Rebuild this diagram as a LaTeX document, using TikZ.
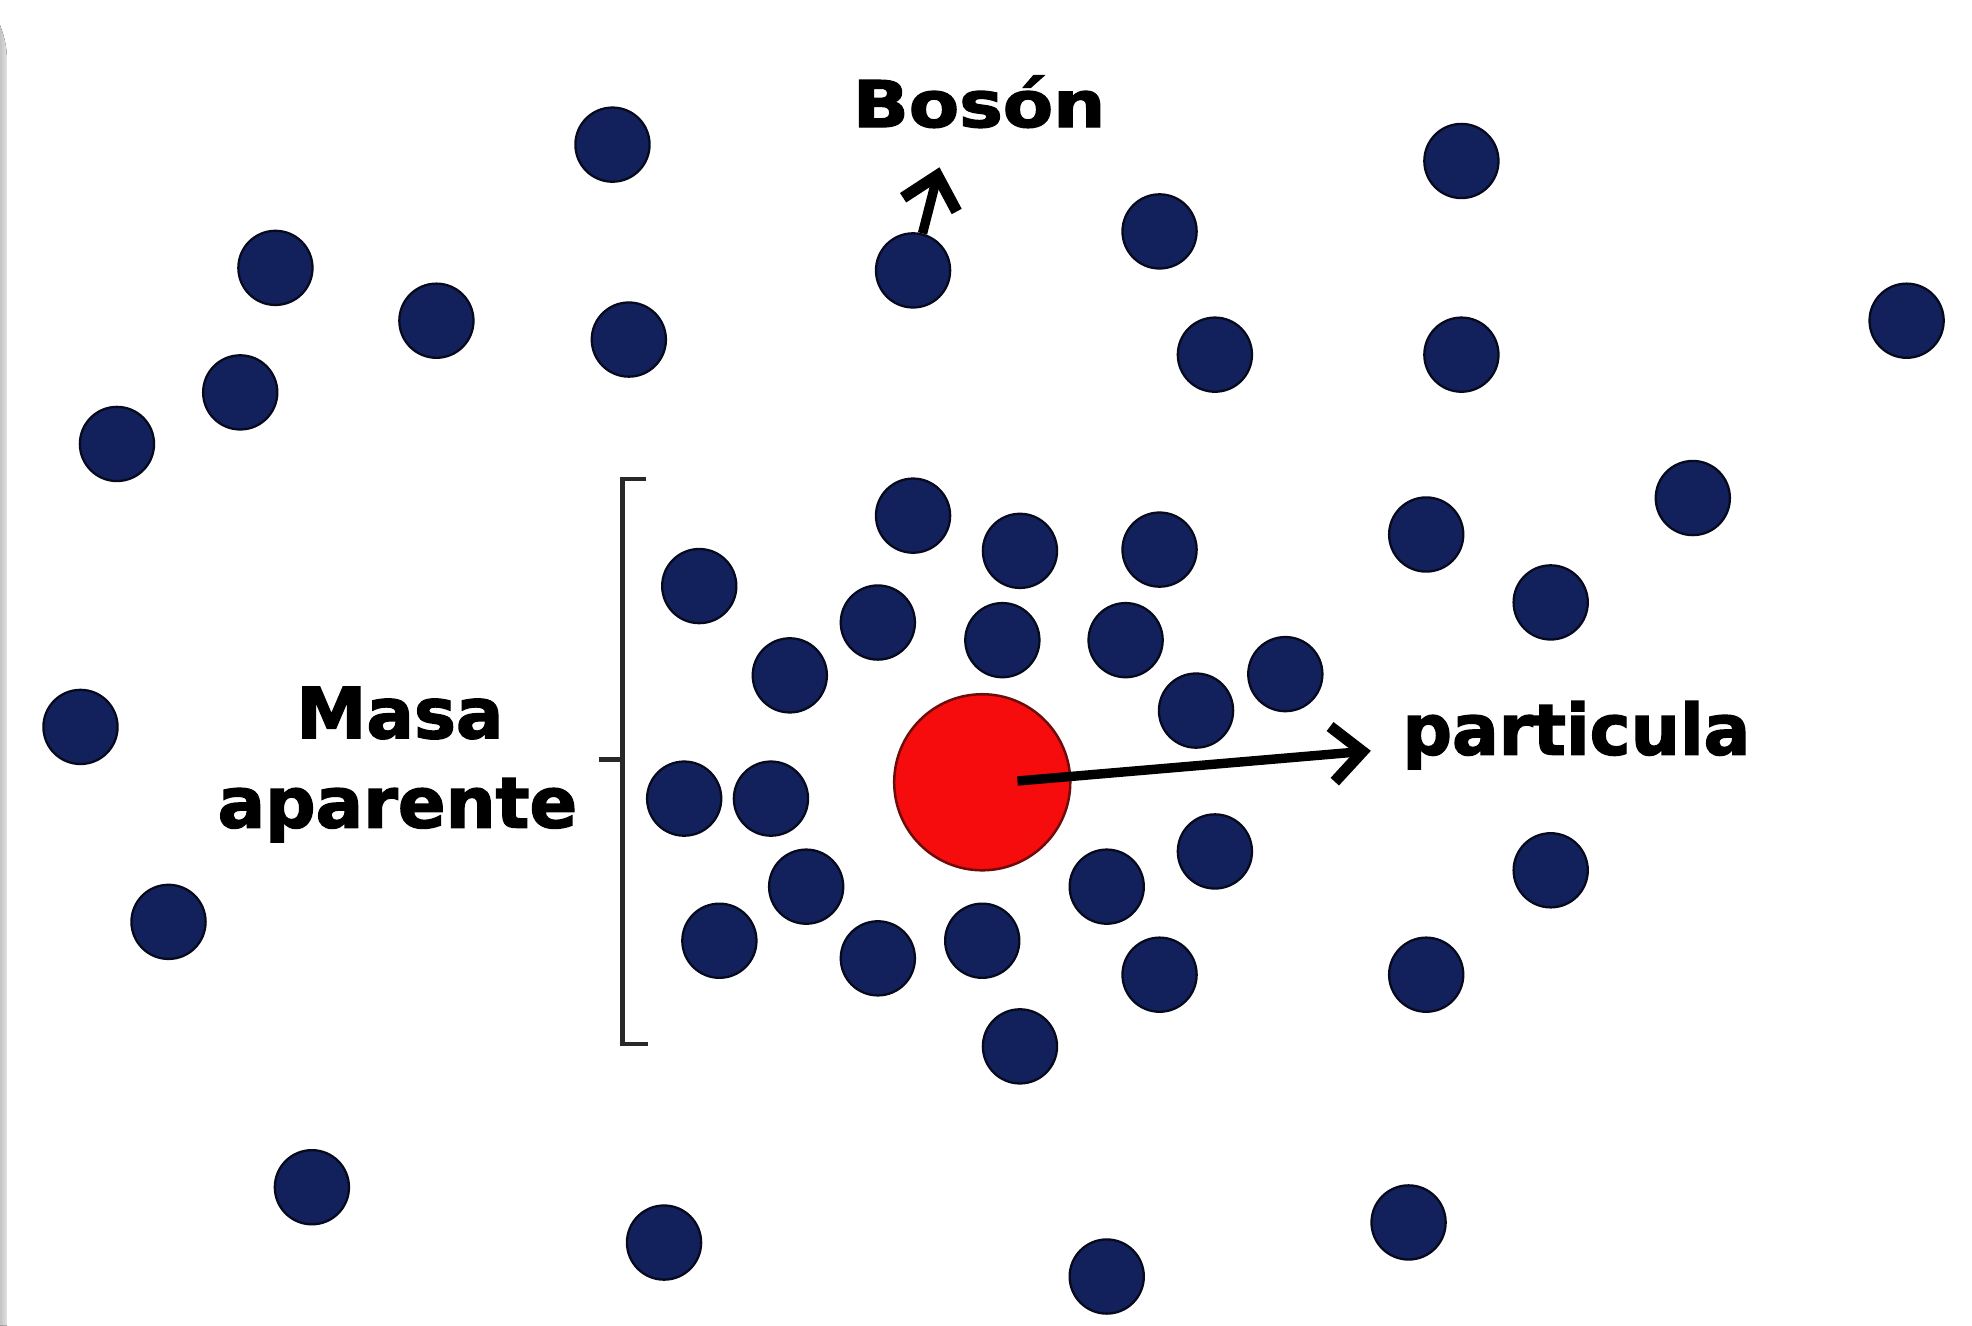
\documentclass[tikz,border=0pt]{standalone}
\usepackage{fontspec}
\setmainfont{DejaVu Sans}
\newfontfamily\heavyfont[FakeBold=2]{DejaVu Sans Bold}
\usetikzlibrary{arrows.meta}
\definecolor{dotblue}{RGB}{18,32,92}
\definecolor{dotedge}{RGB}{6,10,28}
\definecolor{pred}{RGB}{246,12,12}
\definecolor{pedge}{RGB}{110,12,12}
\definecolor{strip}{RGB}{196,196,196}
\begin{document}
\begin{tikzpicture}[x=1pt,y=-1pt,
  dot/.style={circle, fill=dotblue, draw=dotedge, line width=1.8pt, minimum size=59pt, inner sep=0pt},
  pcirc/.style={circle, fill=pred, draw=pedge, line width=2pt, minimum size=140pt, inner sep=0pt},
  lbl/.style={font=\heavyfont\fontsize{55}{66}\selectfont, inner sep=0pt, text=black},
  arr/.style={line width=7.5pt, -{Straight Barb[length=24pt,width=44pt,line width=9pt]}},
  bracket/.style={line width=3.5pt, draw={rgb,255:red,40;green,40;blue,40}}]
\useasboundingbox (0,0) rectangle (1568,1054);
\fill[white] (0,0) rectangle (1568,1054);
\fill[left color=strip, right color=strip!50] (0,20) .. controls (3,28) and (5.5,36) .. (5.5,48) -- (5.5,1054) -- (0,1054) -- cycle;
% dots
\foreach \n/\x/\y in {1/487/115, 2/219/213, 3/347/255, 4/191/312, 5/93/353, 6/500/270,
  7/726/215, 8/922/184, 9/1162/128, 10/966/282, 11/1162/282, 12/1516/255, 13/1346/396,
  14/1134/425, 15/1233/479, 16/64/578, 17/134/733, 18/726/410, 19/811/438, 20/922/437,
  21/556/466, 22/698/495, 23/797/509, 24/895/509, 25/628/537, 26/1022/536, 27/951/565,
  28/544/635, 29/613/635, 30/641/705, 31/880/705, 32/966/677, 33/572/748, 34/698/762,
  35/781/748, 36/922/775, 37/811/832, 38/1134/775, 39/1233/692, 40/248/944, 41/528/988,
  42/880/1015, 43/1120/972}
  \node[dot] (d\n) at (\x,\y) {};
% particle
\node[pcirc] (p) at (781,622) {};
\coordinate (pstart) at (809,621);
\node[lbl, anchor=base west] (lp) at (1115,600) {\scalebox{1.0}[1.02]{particula}};
\coordinate (ptip) at (1090,597);
\draw[arr] (pstart) -- (ptip);
% boson
\node[lbl, anchor=base west] (lb) at (678,101) {\scalebox{1.06}[0.93]{Bosón}};
\coordinate (btip) at (747,133);
\draw[arr] (d7) -- (btip);
% masa aparente
\node[lbl, anchor=base, font=\heavyfont\fontsize{56}{70}\selectfont] (lm1) at (318,587) {Masa};
\node[lbl, anchor=base, font=\heavyfont\fontsize{56}{70}\selectfont] (lm2) at (316,658) {aparente};
% bracket
\draw[bracket] (514,381) -- (495,381) -- (495,830) -- (515,830);
\draw[bracket] (495,604) -- (476,604);
\end{tikzpicture}
\end{document}
